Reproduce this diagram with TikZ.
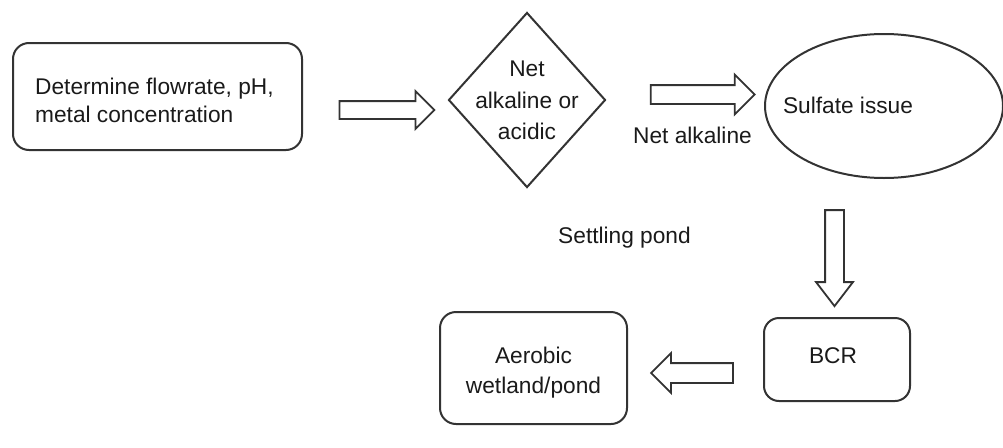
\documentclass[tikz,border=0pt]{standalone}
\usepackage{fontspec}
\setmainfont{Liberation Sans}
\usetikzlibrary{shapes.geometric,shapes.arrows}
\definecolor{linec}{HTML}{333333}
\definecolor{txtc}{HTML}{1A1A1A}
\begin{document}
\begin{tikzpicture}[x=1pt,y=-1pt,
  shp/.style={draw=linec, line width=2pt, inner sep=0pt},
  rbox/.style={shp, rectangle, rounded corners=16pt},
  txt/.style={inner sep=0pt, text=txtc, font=\fontsize{22.7}{28}\selectfont},
  barrow/.style={shape=single arrow, draw=linec, line width=1.8pt, inner xsep=0pt,
     single arrow tip angle=90, single arrow head indent=0pt}]
\useasboundingbox (0,0) rectangle (1003,447);

% shapes
\node[rbox, minimum width=289pt, minimum height=107pt] (b1) at (157.5,96.5) {};
\node[shp, diamond, minimum width=157pt, minimum height=175pt] (dia) at (527,100) {};
\node[shp, ellipse, minimum width=238pt, minimum height=144pt] (ell) at (884,106) {};
\node[rbox, rounded corners=15pt, minimum width=146pt, minimum height=83pt] (bcr) at (837,359.5) {};
\node[rbox, rounded corners=16pt, minimum width=187pt, minimum height=112pt] (aer) at (533.5,368) {};

% texts
\node[txt, align=left, anchor=west] (t1) at (35,100.8) {Determine flowrate, pH,\\metal concentration};
\node[txt, align=center, font=\fontsize{22.7}{31.5}\selectfont] (tdia) at (527,100.4) {Net\\alkaline or\\acidic};
\node[txt, anchor=base] (tell) at (848,113) {Sulfate issue};
\node[txt, anchor=base] (tbcr) at (833,363) {BCR};
\node[txt, align=center, font=\fontsize{22.7}{30}\selectfont] (taer) at (533.5,372.4) {Aerobic\\wetland/pond};
\node[txt, anchor=base] (tnet) at (692.5,143) {Net alkaline};
\node[txt, anchor=base] (tset) at (624.5,243) {Settling pond};

% block arrows
\node[barrow, inner ysep=8pt, single arrow head extend=10pt, minimum height=95pt] (a1) at (382.5,110) {};
\node[barrow, inner ysep=8.5pt, single arrow head extend=10.5pt, minimum height=104pt] (a2) at (698,94.5) {};
\node[barrow, rotate=270, inner ysep=8.5pt, single arrow head extend=9pt, single arrow tip angle=75, minimum height=96pt] (a3) at (834.5,252) {};
\node[barrow, rotate=180, inner ysep=9pt, single arrow head extend=10pt, minimum height=82pt] (a4) at (697,373) {};
\end{tikzpicture}
\end{document}
